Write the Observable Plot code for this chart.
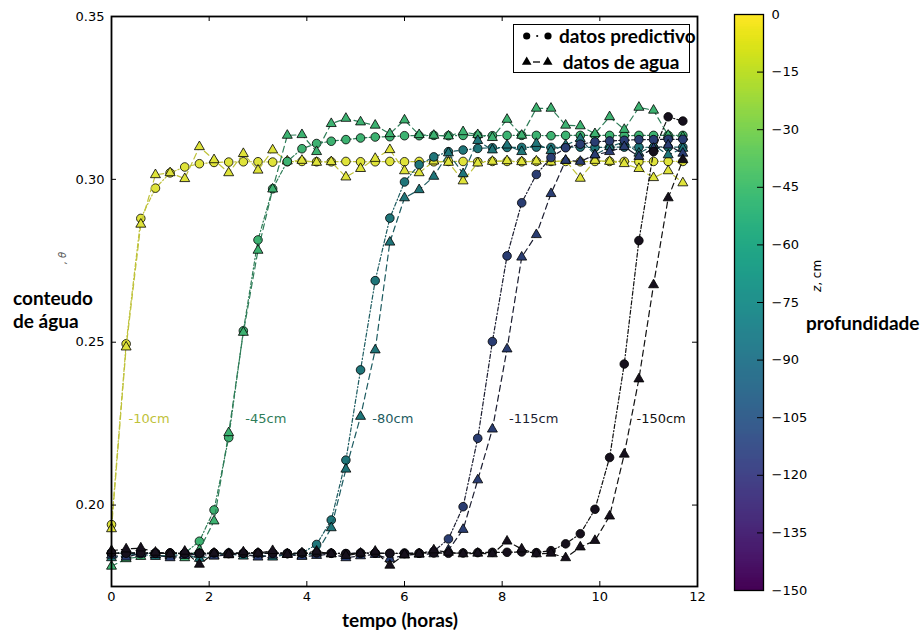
<!DOCTYPE html>
<html><head><meta charset="utf-8">
<script src="https://cdn.jsdelivr.net/npm/d3@7"></script>
<script src="https://cdn.jsdelivr.net/npm/@observablehq/plot@0.6"></script>
<style>
body{margin:0;background:#fff;}
#wrap{position:relative;width:922px;height:635px;overflow:hidden;background:#fff;font-family:"DejaVu Sans",sans-serif;}
#wrap > *{position:absolute;}
.b{font-family:Lato,sans-serif;font-weight:700;font-size:19px;color:#000;white-space:nowrap;line-height:20px;}
</style></head><body><div id="wrap"></div>
<script>
// ---- data ----
const times = [0,0.3,0.6,0.9,1.2,1.5,1.8,2.1,2.4,2.7,3.0,3.3,3.6,3.9,4.2,4.5,4.8,5.1,5.4,5.7,6.0,6.3,6.6,6.9,7.2,7.5,7.8,8.1,8.4,8.7,9.0,9.3,9.6,9.9,10.2,10.5,10.8,11.1,11.4,11.7];
const depths = [-10,-45,-80,-115,-150];
const depthLabels = ["-10cm","-45cm","-80cm","-115cm","-150cm"];

const pred10 = [0.1940,0.2495,0.2880,0.2973,0.3020,0.3038,0.3048,0.3052,0.3053,0.3054,0.3054,0.3053,0.3054,0.3055,0.3054,0.3054,0.3055,0.3054,0.3054,0.3055,0.3054,0.3055,0.3054,0.3055,0.3055,0.3054,0.3055,0.3055,0.3054,0.3055,0.3055,0.3055,0.3054,0.3055,0.3055,0.3055,0.3054,0.3055,0.3055,0.3055];
const meas10 = [0.1927,0.2485,0.2862,0.3014,0.3020,0.3002,0.3100,0.3060,0.3020,0.3079,0.3028,0.3090,0.3056,0.3058,0.3052,0.3054,0.3007,0.3033,0.3064,0.3091,0.3026,0.3020,0.3056,0.3052,0.2995,0.3050,0.3055,0.3057,0.3054,0.3056,0.3053,0.3058,0.3003,0.3058,0.3055,0.3048,0.3033,0.3005,0.3026,0.2989];
const pred45 = [0.1852,0.1854,0.1851,0.1853,0.1850,0.1852,0.1889,0.1985,0.2207,0.2535,0.2814,0.2971,0.3055,0.3094,0.3110,0.3117,0.3122,0.3127,0.3130,0.3131,0.3134,0.3134,0.3135,0.3134,0.3135,0.3135,0.3134,0.3135,0.3135,0.3135,0.3134,0.3135,0.3135,0.3135,0.3135,0.3134,0.3135,0.3135,0.3135,0.3135];
const meas45 = [0.1812,0.1835,0.1842,0.1846,0.1843,0.1838,0.1862,0.1951,0.2222,0.2530,0.2782,0.2970,0.3135,0.3137,0.3085,0.3171,0.3187,0.3176,0.3166,0.3140,0.3182,0.3137,0.3135,0.3133,0.3146,0.3137,0.3128,0.3184,0.3135,0.3218,0.3218,0.3166,0.3164,0.3140,0.3192,0.3153,0.3221,0.3212,0.3135,0.3130];
const pred80 = [0.1853,0.1851,0.1852,0.1853,0.1851,0.1852,0.1850,0.1853,0.1852,0.1851,0.1853,0.1852,0.1851,0.1853,0.1879,0.1954,0.2138,0.2415,0.2689,0.2881,0.2992,0.3045,0.3069,0.3085,0.3090,0.3095,0.3097,0.3098,0.3098,0.3099,0.3098,0.3099,0.3099,0.3098,0.3099,0.3099,0.3099,0.3098,0.3099,0.3099];
const meas80 = [0.1838,0.1846,0.1850,0.1842,0.1845,0.1848,0.1836,0.1844,0.1851,0.1843,0.1847,0.1840,0.1849,0.1845,0.1852,0.1930,0.2110,0.2272,0.2476,0.2807,0.2943,0.2968,0.3009,0.3081,0.3017,0.3119,0.3090,0.3105,0.3085,0.3110,0.3088,0.3105,0.3125,0.3075,0.3100,0.3115,0.3080,0.3105,0.3075,0.3095];
const pred115 = [0.1852,0.1853,0.1851,0.1852,0.1853,0.1851,0.1852,0.1850,0.1853,0.1852,0.1851,0.1853,0.1852,0.1851,0.1853,0.1852,0.1851,0.1853,0.1852,0.1851,0.1853,0.1852,0.1858,0.1896,0.1995,0.2205,0.2502,0.2765,0.2928,0.3015,0.3067,0.3097,0.3108,0.3115,0.3118,0.3120,0.3122,0.3122,0.3123,0.3123];
const meas115 = [0.1846,0.1840,0.1852,0.1848,0.1838,0.1845,0.1850,0.1843,0.1847,0.1851,0.1840,0.1846,0.1849,0.1842,0.1845,0.1850,0.1838,0.1844,0.1848,0.1835,0.1846,0.1849,0.1850,0.1862,0.1925,0.2077,0.2233,0.2479,0.2761,0.2830,0.2956,0.3058,0.3055,0.3075,0.3085,0.3100,0.3070,0.3095,0.3105,0.3080];
const pred150 = [0.1853,0.1852,0.1854,0.1852,0.1853,0.1851,0.1852,0.1853,0.1851,0.1852,0.1853,0.1852,0.1851,0.1852,0.1853,0.1852,0.1851,0.1852,0.1853,0.1852,0.1851,0.1852,0.1853,0.1852,0.1853,0.1854,0.1855,0.1855,0.1856,0.1854,0.1860,0.1881,0.1912,0.1987,0.2146,0.2433,0.2812,0.3085,0.3192,0.3179];
const meas150 = [0.1860,0.1865,0.1868,0.1855,0.1850,0.1858,0.1818,0.1852,0.1848,0.1856,0.1852,0.1860,0.1848,0.1853,0.1858,0.1850,0.1845,0.1852,0.1858,0.1815,0.1848,0.1850,0.1862,0.1855,0.1850,0.1852,0.1850,0.1889,0.1865,0.1850,0.1852,0.1838,0.1871,0.1891,0.1966,0.2156,0.2387,0.2676,0.2943,0.3060];

const xTicks = [0,2,4,6,8,10,12];
const yTicks = [0.20,0.25,0.30,0.35];
const cbTicks = [0,-15,-30,-45,-60,-75,-90,-105,-120,-135,-150];
// annotation anchors (time, value) for the depth labels
const labelT = [0.35,2.74,5.34,8.14,10.75];
const labelV = 0.2265;

// ---- styles ----
const lineColors = ["#bfc23a","#2f7d58","#1d5b60","#1b1d30","#111111"];
const markerColors = ["#dfe33a","#3db271","#1f7579","#2a3d72","#16101c"]; // for depths -10 ... -150
const W = 922, H = 635, mL = 111, mR = 225, mT = 16, mB = 49;
const innerW = W - mL - mR, innerH = H - mT - mB;

const predicted = [pred10,pred45,pred80,pred115,pred150];
const measured = [meas10,meas45,meas80,meas115,meas150];

const marks = [];
depths.forEach((d, k) => {
  const P = times.map((t, i) => ({t, v: predicted[k][i], depth: d}));
  const M = times.map((t, i) => ({t, v: measured[k][i], depth: d}));
  marks.push(Plot.line(P, {x: "t", y: "v", stroke: lineColors[k], strokeWidth: 1.2, strokeDasharray: "4,2.2,1.2,2.2"}));
  marks.push(Plot.dot(P, {x: "t", y: "v", fill: "depth", stroke: "black", strokeWidth: 0.8, r: 4.3}));
  marks.push(Plot.line(M, {x: "t", y: "v", stroke: lineColors[k], strokeWidth: 1.2, strokeDasharray: "6,4"}));
  marks.push(Plot.dot(M, {x: "t", y: "v", fill: "depth", symbol: "triangle", stroke: "black", strokeWidth: 0.8, r: 3.7}));
});
depths.forEach((d, k) => {
  marks.push(Plot.text([{t: labelT[k], v: labelV, s: depthLabels[k]}], {x: "t", y: "v", text: "s", fill: lineColors[k], textAnchor: "start", fontSize: 13}));
});

const main = Plot.plot({
  width: W, height: H, marginLeft: mL, marginRight: mR, marginTop: mT, marginBottom: mB,
  style: {fontFamily: "DejaVu Sans", fontSize: "13px", color: "black", background: "transparent", overflow: "visible"},
  x: {domain: [0, 12]},
  y: {domain: [0.175, 0.35]},
  color: {type: "linear", domain: depths, range: markerColors},
  marks: [
    ...marks,
    Plot.ruleX(xTicks, {insetTop: innerH - 5, stroke: "black"}),
    Plot.ruleX(xTicks, {insetBottom: innerH - 5, stroke: "black"}),
    Plot.ruleY(yTicks, {insetLeft: innerW - 5, stroke: "black"}),
    Plot.ruleY(yTicks, {insetRight: innerW - 5, stroke: "black"}),
    Plot.frame({stroke: "black", strokeWidth: 1.8}),
    Plot.axisX({ticks: xTicks, tickSize: 0, tickPadding: 5, label: null, fontSize: 13}),
    Plot.axisY({ticks: yTicks, tickSize: 0, tickPadding: 7, tickFormat: d3.format(".2f"), label: null, fontSize: 13})
  ]
});
main.style.left = "0px"; main.style.top = "0px";

const cbSteps = d3.range(-150, 0, 0.5);
const cb = Plot.plot({
  width: 120, height: H, marginTop: 14, marginBottom: 45, marginLeft: 0, marginRight: 91,
  style: {fontFamily: "DejaVu Sans", fontSize: "13px", color: "black", background: "transparent", overflow: "visible"},
  x: {domain: [0, 1], axis: null},
  y: {domain: [-150, 0]},
  color: {type: "linear", scheme: "viridis", domain: [-150, 0]},
  marks: [
    Plot.rect(cbSteps, {x1: () => 0, x2: () => 1, y1: d => d, y2: d => d + 0.5, fill: d => d + 0.25, shapeRendering: "crispEdges"}),
    Plot.ruleY(cbTicks, {insetLeft: 23, stroke: "black"}),
    Plot.frame({stroke: "black", strokeWidth: 1.3}),
    Plot.axisY({anchor: "right", ticks: cbTicks, tickSize: 0, tickPadding: 8, tickFormat: d3.format("d"), label: null, fontSize: 13})
  ]
});
cb.style.left = "734px"; cb.style.top = "0px";

const wrap = document.getElementById("wrap");
wrap.appendChild(main);
wrap.appendChild(cb);

function addDiv(html, css, cls) {
  const el = document.createElement("div");
  if (cls) el.className = cls;
  el.innerHTML = html;
  el.style.cssText += css;
  wrap.appendChild(el);
  return el;
}
addDiv("conteudo", "left:13px;top:288px;", "b");
addDiv("de água", "left:13px;top:311px;", "b");
addDiv("tempo (horas)", "left:400px;top:610px;transform:translateX(-50%);", "b");
addDiv("profundidade", "left:806px;top:313px;", "b");
addDiv(", θ", "left:62px;top:258px;transform:translate(-50%,-50%) rotate(-90deg);font-size:10px;color:#555;font-style:italic;white-space:nowrap;");
addDiv("<i>z</i>, cm", "left:817px;top:276px;transform:translate(-50%,-50%) rotate(-90deg);font-size:12px;color:#000;white-space:nowrap;");

// legend
const lg = addDiv(`
<svg width="60" height="49" style="position:absolute;left:0;top:0;overflow:visible">
  <circle cx="12.7" cy="11" r="3.6" fill="#000"/>
  <circle cx="23.2" cy="11" r="1.1" fill="#000"/>
  <circle cx="34" cy="11" r="3.6" fill="#000"/>
  <path d="${d3.symbol(d3.symbolTriangle, 40)()}" transform="translate(12.7,37)" fill="#000"/>
  <line x1="19" y1="37" x2="26" y2="37" stroke="#000" stroke-width="1.3"/>
  <path d="${d3.symbol(d3.symbolTriangle, 40)()}" transform="translate(33.7,37)" fill="#000"/>
</svg>
<div class="b" style="position:absolute;left:45px;top:1px;">datos predictivo</div>
<div class="b" style="position:absolute;left:48.7px;top:27px;">datos de agua</div>`,
"left:513px;top:24px;width:177px;height:49px;border:1.5px solid #000;box-sizing:border-box;background:#fff;overflow:visible;");
</script>
</body></html>
